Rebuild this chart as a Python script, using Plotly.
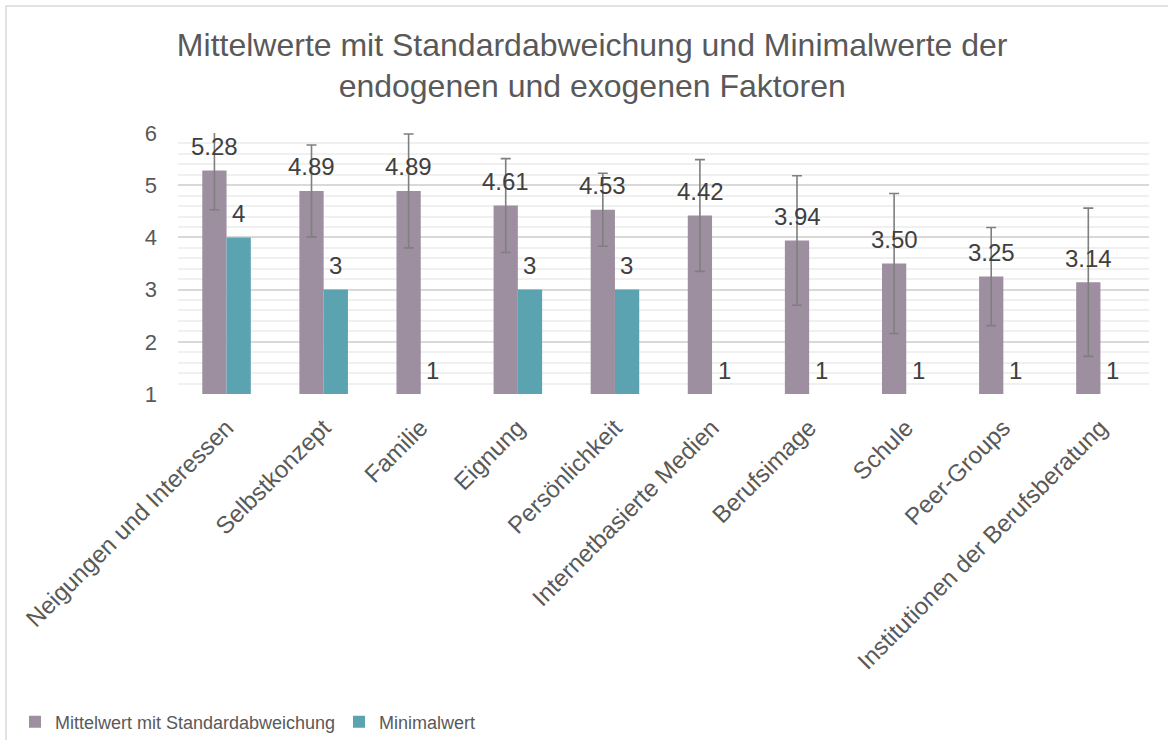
import plotly.graph_objects as go

categories = ["Neigungen und Interessen", "Selbstkonzept", "Familie", "Eignung",
              "Persönlichkeit", "Internetbasierte Medien", "Berufsimage", "Schule",
              "Peer-Groups", "Institutionen der Berufsberatung"]
mean_values = [5.28, 4.89, 4.89, 4.61, 4.53, 4.42, 3.94, 3.50, 3.25, 3.14]
std_values = [0.75, 0.88, 1.09, 0.90, 0.70, 1.07, 1.24, 1.34, 0.94, 1.42]
min_values = [4, 3, 1, 3, 3, 1, 1, 1, 1, 1]
y_ticks = [1, 2, 3, 4, 5, 6]

PURPLE = "#9d8fa0"
TEAL = "#5ba3b0"
FONT = "Liberation Sans, Arial, sans-serif"

W, H = 1168, 740
L, R, T, B = 178, 19, 133, 346
pw, ph = W - L - R, H - T - B

fig = go.Figure()
fig.add_trace(go.Bar(
    name="Mittelwert mit Standardabweichung", x=categories, y=mean_values,
    marker=dict(color=PURPLE, line=dict(width=0)),
    error_y=dict(type="data", array=std_values, symmetric=True,
                 color="#7f7f7f", thickness=1.6, width=5),
))
fig.add_trace(go.Bar(
    name="Minimalwert", x=categories, y=min_values,
    marker=dict(color=TEAL, line=dict(width=0)),
))

annotations = []
for c, m in zip(categories, mean_values):
    annotations.append(dict(x=c, y=m, xref="x", yref="y", text=f"{m:.2f}",
                            showarrow=False, xshift=-12, yshift=24,
                            font=dict(family=FONT, size=24, color="#404040")))
for c, v in zip(categories, min_values):
    annotations.append(dict(x=c, y=v, xref="x", yref="y", text=f"{v}",
                            showarrow=False, xshift=12, yshift=24,
                            font=dict(family=FONT, size=24, color="#404040")))

fig.update_layout(
    width=W, height=H,
    margin=dict(l=L, r=R, t=T, b=B, autoexpand=False),
    paper_bgcolor="white", plot_bgcolor="white",
    font=dict(family=FONT, color="#595959"),
    barmode="group", bargap=0.5, bargroupgap=0,
    title=dict(text="Mittelwerte mit Standardabweichung und Minimalwerte der<br>endogenen und exogenen Faktoren",
               x=0.507, xanchor="center", xref="container",
               y=0.925, yanchor="top", yref="container",
               font=dict(family=FONT, size=32, color="#595959")),
    xaxis=dict(type="category", tickangle=-45, showgrid=False, zeroline=False,
               showline=False, ticks="", tickfont=dict(family=FONT, size=24, color="#595959"),
               ticklabelstandoff=14),
    yaxis=dict(range=[1, 6], tickvals=y_ticks, showgrid=True, gridcolor="#d9d9d9",
               gridwidth=1.5, zeroline=False, showline=False, ticks="",
               tickfont=dict(family=FONT, size=22, color="#595959"),
               ticklabelstandoff=20,
               minor=dict(dtick=0.2, tick0=1, showgrid=True, gridcolor="#f0f0f0", gridwidth=1.5)),
    legend=dict(orientation="h", x=(15 - L) / pw, xanchor="left",
                y=(ph - (722 - T)) / ph, yanchor="middle",
                font=dict(family=FONT, size=18, color="#595959"),
                entrywidth=279, entrywidthmode="pixels",
                bgcolor="rgba(0,0,0,0)"),
    annotations=annotations,
    shapes=[dict(type="rect", xref="paper", yref="paper",
                 x0=(6 - L) / pw, x1=(1300 - L) / pw,
                 y0=(ph - (900 - T)) / ph, y1=(ph - (6 - T)) / ph,
                 line=dict(color="#d9d9d9", width=1.5), fillcolor="rgba(0,0,0,0)", layer="below")],
)

fig.write_html("out.html", config={"displayModeBar": False},
               post_script="document.body.style.margin='0';document.body.style.overflow='hidden';")
